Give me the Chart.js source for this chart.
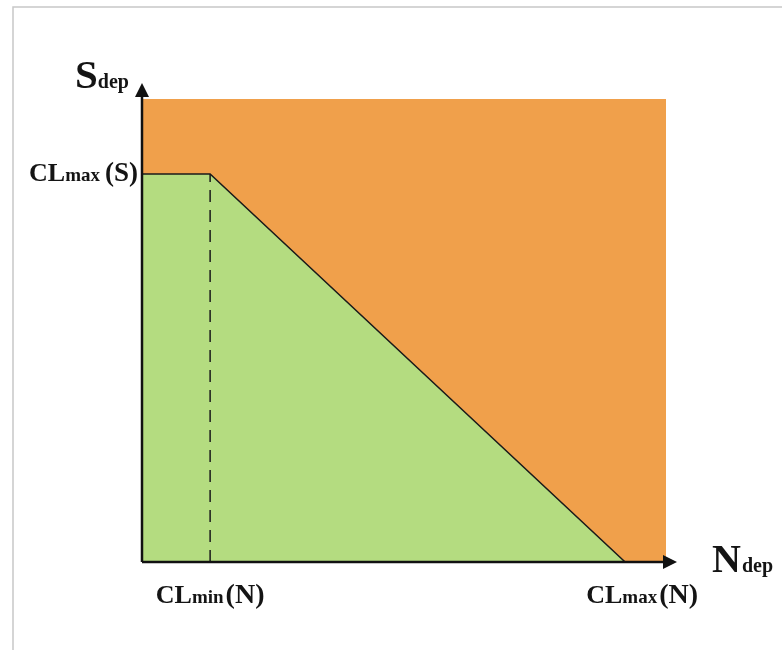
<!DOCTYPE html>
<html>
<head>
<meta charset="utf-8">
<script src="https://cdn.jsdelivr.net/npm/chart.js@4.4.1/dist/chart.umd.min.js"></script>
<style>
html,body{margin:0;padding:0;background:#fff;}
#wrap{position:relative;width:782px;height:650px;}
</style>
</head>
<body>
<div id="wrap"><canvas id="c" width="782" height="650"></canvas></div>
<script>
// deposition space, normalised 0..1 on both axes
const nDep = [0, 0.13, 0.922];        // N deposition: origin, CLmin(N), CLmax(N)
const sDep = [0.838, 0.838, 0];       // S deposition along the critical load function
const regionTop = [1, 1];             // exceedance region upper edge
const regionX = [0, 1];
const dashX = [0.13, 0.13];
const dashY = [0, 0.838];

const serif = '"Liberation Serif", "Times New Roman", serif';

// draw text made of several runs with different sizes
const drawRuns = (ctx, runs, x, y, align) => {
let total = 0;
runs.forEach(r => {
ctx.font = 'bold ' + r.size + 'px ' + serif;
r.w = ctx.measureText(r.t).width;
total += r.w + (r.gap || 0);
});
let cx = align === 'right' ? x - total : align === 'center' ? x - total / 2 : x;
runs.forEach(r => {
ctx.font = 'bold ' + r.size + 'px ' + serif;
ctx.fillText(r.t, cx, y);
cx += r.w + (r.gap || 0);
});
};

const decor = {
id: 'decor',
beforeDraw(chart) {
const ctx = chart.ctx;
ctx.save();
ctx.fillStyle = '#fff';
ctx.fillRect(0, 0, chart.width, chart.height);
ctx.strokeStyle = '#c8c8c8';
ctx.lineWidth = 1.5;
ctx.beginPath();
ctx.moveTo(13, chart.height);
ctx.lineTo(13, 7);
ctx.lineTo(chart.width, 7);
ctx.stroke();
ctx.restore();
},
afterDatasetsDraw(chart) {
const ctx = chart.ctx;
const xs = chart.scales.x, ys = chart.scales.y;
const x0 = xs.getPixelForValue(0), y0 = ys.getPixelForValue(0);
const yTop = ys.getPixelForValue(1), xRight = xs.getPixelForValue(1);
ctx.save();
ctx.strokeStyle = '#111';
ctx.fillStyle = '#111';
ctx.lineWidth = 2.5;
ctx.beginPath();
ctx.moveTo(x0, y0);
ctx.lineTo(x0, yTop - 4);
ctx.moveTo(x0, y0);
ctx.lineTo(xRight - 2, y0);
ctx.stroke();
// arrow heads
ctx.beginPath();
ctx.moveTo(x0, yTop - 16);
ctx.lineTo(x0 - 7, yTop - 2);
ctx.lineTo(x0 + 7, yTop - 2);
ctx.closePath();
ctx.fill();
ctx.beginPath();
ctx.moveTo(xRight + 11, y0);
ctx.lineTo(xRight - 3, y0 - 7);
ctx.lineTo(xRight - 3, y0 + 7);
ctx.closePath();
ctx.fill();

// labels
ctx.fillStyle = '#141414';
ctx.textBaseline = 'alphabetic';
drawRuns(ctx, [{t: 'S', size: 41}, {t: 'dep', size: 20}], 75, yTop - 11, 'left');
drawRuns(ctx, [{t: 'N', size: 40, gap: 1}, {t: 'dep', size: 20}], xRight + 46, y0 + 10, 'left');
drawRuns(ctx, [{t: 'CL', size: 26}, {t: 'max', size: 19, gap: 5}, {t: '(S)', size: 27}],
x0 - 4, ys.getPixelForValue(sDep[0]) + 7, 'right');
drawRuns(ctx, [{t: 'CL', size: 26}, {t: 'min', size: 19, gap: 2}, {t: '(N)', size: 28}],
xs.getPixelForValue(nDep[1]), y0 + 41, 'center');
drawRuns(ctx, [{t: 'CL', size: 26}, {t: 'max', size: 19, gap: 2}, {t: '(N)', size: 28}],
xs.getPixelForValue(nDep[2]) + 17, y0 + 41, 'center');
ctx.restore();
}
};

new Chart(document.getElementById('c'), {
type: 'line',
data: {
datasets: [
{
label: 'exceedance',
data: regionX.map((x, i) => ({x, y: regionTop[i]})),
borderWidth: 0,
pointRadius: 0,
fill: 'origin',
backgroundColor: '#f0a04b',
order: 3
},
{
label: 'critical load function',
data: nDep.map((x, i) => ({x, y: sDep[i]})),
borderColor: '#1a1a1a',
borderWidth: 1.5,
pointRadius: 0,
fill: 'origin',
backgroundColor: '#b4dc80',
order: 2
},
{
label: 'CLmin',
data: dashX.map((x, i) => ({x, y: dashY[i]})),
borderColor: '#1a1a1a',
borderWidth: 1.5,
borderDash: [12, 8],
pointRadius: 0,
fill: false,
order: 1
}
]
},
options: {
responsive: false,
animation: false,
layout: {padding: {left: 142, right: 116, top: 99, bottom: 88}},
plugins: {legend: {display: false}, tooltip: {enabled: false}},
scales: {
x: {type: 'linear', min: 0, max: 1, display: false},
y: {type: 'linear', min: 0, max: 1, display: false}
}
},
plugins: [decor]
});
</script>
</body>
</html>
